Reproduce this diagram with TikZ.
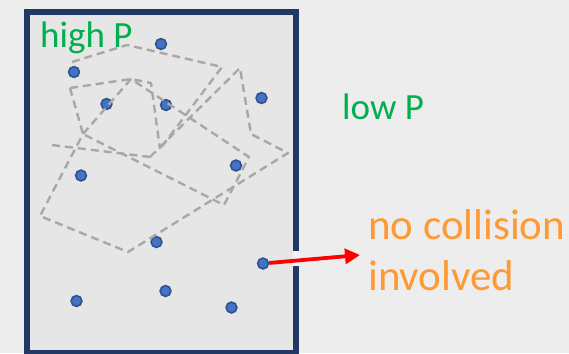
\documentclass[tikz,border=0pt]{standalone}
\usepackage{fontspec}
\setmainfont{Carlito}
\usetikzlibrary{arrows.meta}

\definecolor{pagebg}{RGB}{237,237,237}
\definecolor{boxfill}{RGB}{230,230,230}
\definecolor{wallcol}{RGB}{31,56,100}
\definecolor{gapcol}{RGB}{243,243,243}
\definecolor{molfill}{RGB}{68,114,196}
\definecolor{moledge}{RGB}{47,82,143}
\definecolor{pathgray}{RGB}{170,167,167}
\definecolor{labgreen}{RGB}{0,176,80}
\definecolor{laborange}{RGB}{255,153,51}

\begin{document}
\begin{tikzpicture}[x=1pt,y=-1pt,
  molecule/.style={circle, fill=molfill, draw=moledge, line width=1.6pt,
    minimum size=10.8pt, inner sep=0pt},
  freepath/.style={draw=pathgray, line width=2.4pt, dash pattern=on 8pt off 5pt,
    line join=round},
  wall/.style={draw=wallcol, line width=6pt, fill=boxfill},
  greentext/.style={text=labgreen, font=\fontsize{37}{44}\selectfont,
    inner sep=0pt, anchor=base west},
  orangetext/.style={text=laborange, font=\fontsize{43}{51}\selectfont,
    inner sep=0pt, anchor=base west},
  escape/.style={draw=red, line width=3.8pt,
    -{Triangle[length=15pt,width=15pt]}}
]
% page and frame
\fill[pagebg] (0,0) rectangle (569,353);
\useasboundingbox (0,0) rectangle (569,353);
\clip (0,0) rectangle (569,353);
\draw[wall] (27,12) rectangle (296,353);
% opening in the right wall
\fill[gapcol] (292.5,251) rectangle (299.5,266);

% molecules
\node[molecule] (m1)  at (161,44)  {};
\node[molecule] (m2)  at (74,72)   {};
\node[molecule] (m3)  at (106.5,104) {};
\node[molecule] (m4)  at (166,105) {};
\node[molecule] (m5)  at (261.5,98) {};
\node[molecule] (m6)  at (236,165.5) {};
\node[molecule] (m7)  at (81,175.5) {};
\node[molecule] (m8)  at (156.5,242) {};
\node[molecule] (m9)  at (263,263.5) {};
\node[molecule] (m10) at (76.5,301) {};
\node[molecule] (m11) at (165.5,291) {};
\node[molecule] (m12) at (231.5,307.5) {};

% corners of the collision paths
\coordinate (a1) at (72,62);
\coordinate (a2) at (127,45);
\coordinate (a3) at (222,67);
\coordinate (a4) at (160,149);
\coordinate (b1) at (240,68);
\coordinate (b2) at (150,157);
\coordinate (b3) at (251,134);
\coordinate (b4) at (288,153);
\coordinate (b5) at (128,252);
\coordinate (b6) at (40,216);
\coordinate (b7) at (83,134);
\coordinate (b8) at (131,79);
\coordinate (b9) at (249,157);
\coordinate (b10) at (224,205);
\coordinate (c1) at (70,88);
\coordinate (c2) at (151,83);
\coordinate (e1) at (52,145);

% collision paths
\draw[freepath] (a1) -- (a2) -- (a3) -- (a4);
\draw[freepath] (b2) -- (b1) -- (b3) -- (b4) -- (b5) -- (b6) -- (b7)
  -- (b8) -- (b9) -- (b10) -- (b7);
\draw[freepath] (c1) -- (b8) -- (c2) -- (a4);
\draw[freepath] (c1) -- (b7);
\draw[freepath] (e1) -- (b2);

% labels
\node[greentext] (hp) at (40,48) {high P};
\node[greentext] (lp) at (342,119) {low P};
\node[orangetext] (nc1) at (368,239) {no collision};
\node[orangetext] (nc2) at (368,290) {involved};

% escaping molecule
\coordinate (tip) at (360,255);
\draw[escape] (m9) -- (tip);
\end{tikzpicture}
\end{document}
